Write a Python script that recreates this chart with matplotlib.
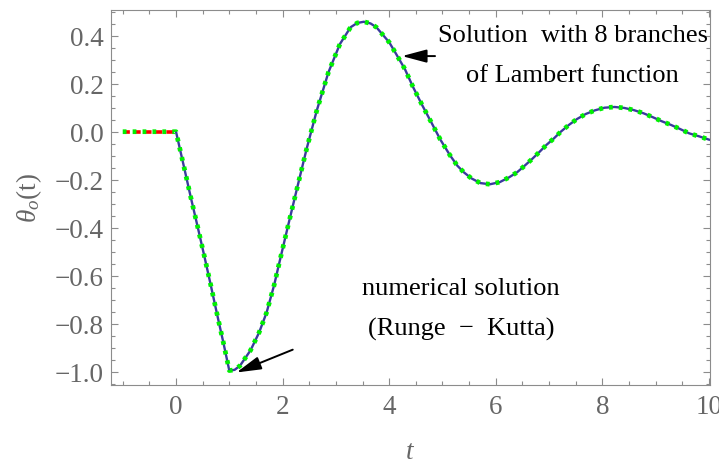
import matplotlib
matplotlib.use('Agg')
import matplotlib.pyplot as plt
from matplotlib.ticker import MultipleLocator

plt.rcParams['font.family'] = ['Liberation Serif', 'DejaVu Serif']
plt.rcParams['mathtext.fontset'] = 'custom'
plt.rcParams['mathtext.rm'] = 'Liberation Serif'
plt.rcParams['mathtext.it'] = 'Liberation Serif:italic'

# history (t <= 0)
t_hist = [-1.0, 0.0]
theta_hist = [0.0, 0.0]

# solution (t >= 0)
t_sol = [0.0, 0.156, 0.28, 0.406, 0.53, 0.65, 0.77, 0.89, 1.0, 1.1, 1.2,
         1.4, 1.56, 1.7, 1.84, 1.95, 2.1, 2.275, 2.45, 2.64, 2.86, 3.075,
         3.275, 3.4, 3.525, 3.65, 3.76, 4.0, 4.106, 4.294, 4.45, 4.625, 4.79,
         4.96, 5.14, 5.28, 5.4, 5.54, 5.71, 5.89, 6.075, 6.25, 6.4, 6.54,
         6.68, 6.825, 6.95, 7.09, 7.22, 7.37, 7.525, 7.69, 7.86, 8.04, 8.23,
         8.41, 8.59, 8.775, 8.95, 9.12, 9.29, 9.46, 9.63, 9.81, 10.0]
theta_sol = [0.0, -0.153, -0.276, -0.396, -0.517, -0.637, -0.76, -0.88, -0.995,
             -0.992, -0.975, -0.91, -0.836, -0.753, -0.64, -0.535, -0.394,
             -0.232, -0.072, 0.0875, 0.2475, 0.365, 0.435, 0.453, 0.458, 0.451,
             0.435, 0.3725, 0.333, 0.261, 0.185, 0.108, 0.039, -0.033, -0.098,
             -0.142, -0.169, -0.194, -0.214, -0.219, -0.21, -0.19, -0.169,
             -0.142, -0.114, -0.083, -0.055, -0.028, 0.0, 0.028, 0.053, 0.074,
             0.089, 0.1, 0.103, 0.099, 0.09, 0.0765, 0.06, 0.043, 0.028, 0.011,
             -0.007, -0.019, -0.033]

# numerical (Runge-Kutta) solution drawn on top
t_num = t_hist[:-1] + t_sol
theta_num = theta_hist[:-1] + theta_sol

gray = '#8c8c8c'
label_gray = '#666666'

fig = plt.figure(figsize=(7.19, 4.64), dpi=100)
ax = fig.add_axes([0.154, 0.1687, 0.8328, 0.8076])

ax.plot(t_sol, theta_sol, color='#3b3b9e', lw=1.7, zorder=2)
ax.plot(t_hist, theta_hist, color='#ff0000', lw=2.6, linestyle=(0, (1.9, 1.1)), zorder=3)
ax.plot(t_num, theta_num, color='#00f000', lw=3.4, linestyle=(0, (0.8, 1.3)), zorder=4)

ax.set_xlim(-1.225, 10.01)
ax.set_ylim(-1.054, 0.507)

ax.xaxis.set_major_locator(MultipleLocator(2))
ax.xaxis.set_minor_locator(MultipleLocator(0.5))
ax.yaxis.set_major_locator(MultipleLocator(0.2))
ax.yaxis.set_minor_locator(MultipleLocator(0.05))
ax.yaxis.set_major_formatter(plt.FuncFormatter(lambda v, p: ('%.1f' % v).replace('-', '\u2212')))

ax.tick_params(which='both', direction='in', top=True, right=True,
               color=gray, width=0.8, labelcolor=label_gray, labelsize=19.5)
ax.tick_params(which='major', length=5)
ax.tick_params(which='minor', length=3)
ax.tick_params(axis='y', pad=5)
ax.tick_params(axis='x', pad=7)
for sp in ax.spines.values():
    sp.set_color(gray)
    sp.set_linewidth(0.8)

ax.set_xlabel('$t$', fontsize=19.5, color=label_gray, labelpad=14)
ax.set_ylabel(r'$\theta_o$(t)', fontsize=19.5, color=label_gray, labelpad=8)

ax.text(7.44, 0.378, 'Solution  with 8 branches', fontsize=19, ha='center', va='baseline', clip_on=False)
ax.text(7.44, 0.211, 'of Lambert function', fontsize=19, ha='center', va='baseline')
ax.text(5.34, -0.676, 'numerical solution', fontsize=19, ha='center', va='baseline')
ax.text(5.36, -0.847, '(Runge  \u2212  Kutta)', fontsize=19, ha='center', va='baseline')

arrow = dict(arrowstyle='-|>,head_length=1.5,head_width=0.4', color='black', lw=1.4,
             shrinkA=0, shrinkB=0)
ax.annotate('', xy=(4.24, 0.315), xytext=(4.86, 0.315), arrowprops=arrow)
ax.annotate('', xy=(1.134, -1.003), xytext=(2.19, -0.908), arrowprops=arrow)

fig.savefig('out.png', dpi=100)
